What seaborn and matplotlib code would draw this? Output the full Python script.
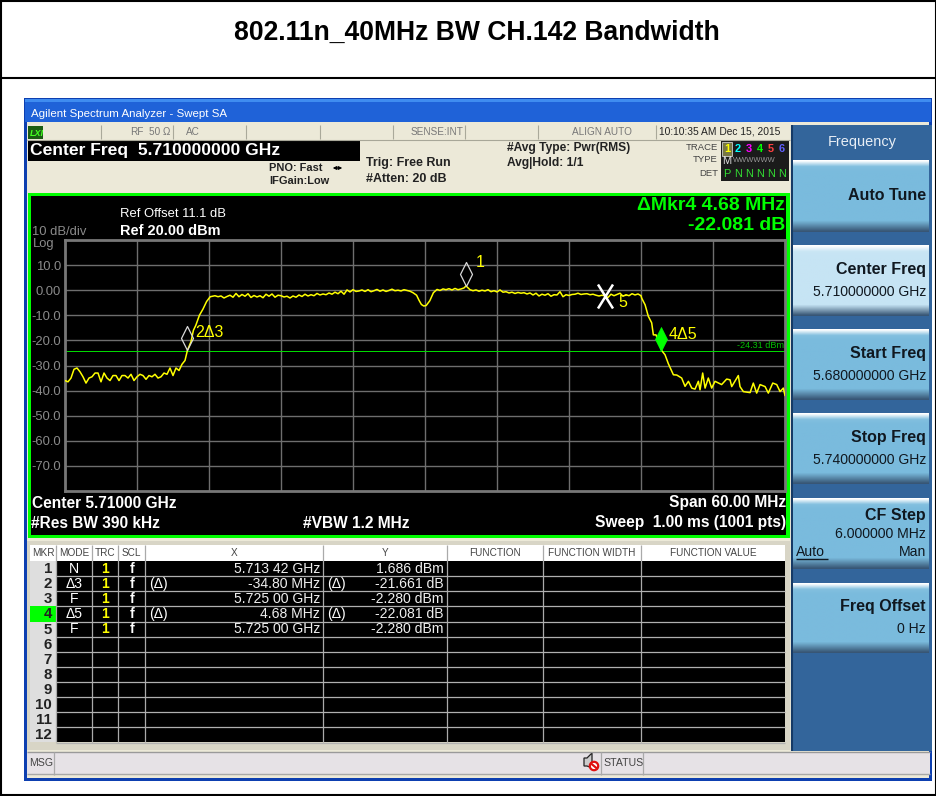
import numpy as np
import pandas as pd
import seaborn as sns
import matplotlib.pyplot as plt
from matplotlib.patches import Rectangle, Polygon, Circle
from matplotlib.path import Path

# trace pieces, frequency in MHz above 5680 MHz, level in dBm
left_freq = [0, .25, .5, .75, 1, 1.25, 1.5, 1.75, 2, 2.25, 2.5, 2.75, 3, 3.25, 3.5, 3.75, 4, 4.25, 4.5, 4.75,
             5, 5.25, 5.5, 5.75, 6, 6.25, 6.5, 6.75, 7, 7.25, 7.5, 7.75, 8, 8.25, 8.5, 8.75, 9, 9.25, 9.5, 9.75,
             10, 10.2, 10.5, 10.7, 10.9, 11.2, 11.5, 11.8, 12.1]
left_level = [-36, -36.5, -35, -31.5, -31, -32.5, -34.5, -37, -35, -34.5, -33, -33, -36.5, -33, -35, -36, -34, -34,
              -36, -34, -34, -35, -33.5, -36, -34.5, -33.5, -34, -35.5, -34, -34.5, -33.5, -35, -34.5, -33, -33.5,
              -31, -34, -31, -32, -29.5, -28, -24, -20.5, -16, -14, -10, -7.5, -4.5, -2.6]

top_left_freq = [12.5, 12.75, 13, 13.25, 13.5, 13.75, 14, 14.25, 14.5, 14.75, 15, 15.25, 15.5, 15.75, 16, 16.25,
                 16.5, 16.75, 17, 17.25, 17.5, 17.75, 18, 18.25, 18.5, 18.75, 19, 19.25, 19.5, 19.75, 20, 20.25,
                 20.5, 20.75, 21, 21.25, 21.5, 21.75, 22, 22.25, 22.5, 22.75, 23, 23.25, 23.5, 23.75, 24, 24.25,
                 24.5, 24.75, 25, 25.25, 25.5, 25.75, 26, 26.25, 26.5, 26.75, 27, 27.25, 27.5, 27.75, 28, 28.25,
                 28.5, 28.75, 29]
top_left_level = [-2.2, -2.6, -2.3, -3.1, -2.5, -2.0, -2.8, -1.3, -2.6, -1.7, -2.4, -1.4, -2.9, -2.1, -2.7, -2.2,
                  -3.0, -1.6, -2.4, -1.5, -2.8, -2.0, -2.2, -2.7, -2.4, -3.1, -2.3, -2.8, -1.9, -2.5, -1.6, -2.3,
                  -1.8, -2.2, -1.3, -1.9, -1.5, -1.8, -1.1, -1.6, -0.8, -1.4, -0.4, -1.6, 0.1, -0.7, 0.2, -0.5,
                  -0.3, 0.1, -0.5, 0.2, -0.6, -0.2, 0.3, -0.4, 0.1, -0.5, -0.1, 0.4, -0.2, 0.0, -0.3, 0.2, -0.1, -0.4, -1.0]

dip_freq = [29.3, 29.5, 29.7, 29.9, 30.1, 30.4, 30.7, 31, 31.25, 31.5, 31.75, 32, 32.25, 32.5, 32.75, 33, 33.25, 33.42]
dip_level = [-2, -4, -5.7, -6.3, -6.1, -4.2, -1, 0.3, -0.1, 0.5, 0.2, 0.6, 0.1, 0.7, 0.2, 0.5, 0.9, 1.686]

top_right_freq = [33.75, 34, 34.25, 34.5, 34.75, 35, 35.25, 35.5, 35.75, 36, 36.25, 36.5, 36.75, 37, 37.25, 37.5,
                  37.75, 38, 38.25, 38.5, 38.75, 39, 39.25, 39.5, 39.75, 40, 40.25, 40.5, 40.75, 41, 41.25, 41.5,
                  41.75, 42, 42.25, 42.5, 42.75, 43, 43.25, 43.5, 43.75, 44, 44.25, 44.5, 44.75, 45, 45.25, 45.5,
                  45.75, 46, 46.25, 46.5, 46.75, 47, 47.25, 47.5, 47.75, 48]
top_right_level = [0.2, -0.2, 0.1, -0.4, 0, -0.3, 0.2, -0.6, -0.2, -0.7, 0.1, -0.8, -0.6, -1.1, -0.8, -1.3, -0.9, -1.2,
                   -1, -1.5, -1.1, -1.9, -1.2, -2.3, -1.6, -2.0, -1.4, -2.4, -1.8, -1.9, -0.6, -2.6, -1.8, -2.1, -1.7,
                   -1.6, -1.2, -1.7, -1.5, -1.4, -1.8, -1.6, -2.0, -2.3, -2.0, -2.28, -2.9, -1.6, -2.2, -1.7, -1.2, -2.4,
                   -1.8, -2.2, -1.4, -1.9, -1.5, -2.2]

right_freq = [48.06, 48.34, 48.61, 48.89, 49.03, 49.25, 49.73, 50, 50.28, 50.7, 50.98, 51.39, 51.67, 51.95, 52.23, 52.5,
              52.78, 52.92, 53.14, 53.34, 53.61, 53.89, 54.17, 54.72, 55.14, 55.42, 55.56, 56.11, 56.25, 56.53, 57.09,
              57.36, 57.64, 57.92, 58.34, 58.61, 58.98, 59.31, 59.59, 59.86, 60]
right_level = [-3.2, -5.8, -10.4, -13, -17.8, -17.8, -24.1, -25.7, -29.3, -33.7, -33.8, -35, -38.3, -36.3, -39, -39.4,
               -36.3, -39.7, -33, -39, -35, -39, -36.3, -37.6, -35.4, -35.7, -38.4, -34, -38.4, -40.4, -40.8,
               -37, -41, -37.6, -38.4, -41, -37, -37.6, -40.4, -39, -42]

# markers, same units as the trace
marker_freq = [33.42, 10.2, 49.68, 45.0]
marker_level = [1.686, -23.94, -24.36, -2.28]
display_line = -24.31

y_ticks = [10, 0, -10, -20, -30, -40, -50, -60, -70]
y_tick_labels = ['10.0', '0.00', '-10.0', '-20.0', '-30.0', '-40.0', '-50.0', '-60.0', '-70.0']
x_ticks = [0, 6, 12, 18, 24, 30, 36, 42, 48, 54, 60]

# marker table
mkr_no = ['1', '2', '3', '4', '5', '6', '7', '8', '9', '10', '11', '12']
mkr_mode = ['N', '\u03943', 'F', '\u03945', 'F']
mkr_x = ['5.713 42 GHz', '-34.80 MHz', '5.725 00 GHz', '4.68 MHz', '5.725 00 GHz']
mkr_y = ['1.686 dBm', '-21.661 dB', '-2.280 dBm', '-22.081 dB', '-2.280 dBm']
mkr_delta = [False, True, False, True, False]
table_heads = ['MKR', 'MODE', 'TRC', 'SCL', 'X', 'Y', 'FUNCTION', 'FUNCTION WIDTH', 'FUNCTION VALUE']
table_cols = [30, 56, 92, 118, 145, 323, 447, 543, 641, 785]

# softkeys
key_titles = ['Auto Tune', 'Center Freq', 'Start Freq', 'Stop Freq', 'CF Step', 'Freq Offset']
key_values = ['', '5.710000000 GHz', '5.680000000 GHz', '5.740000000 GHz', '6.000000 MHz', '0 Hz']
key_tops = [160, 245, 329, 413, 498, 583]
key_bottoms = [232, 316, 400, 484, 569, 653]

sns.set_theme(style="dark")
plt.rcParams['font.family'] = ['Liberation Sans', 'DejaVu Sans']

W, H = 937, 796
fig = plt.figure(figsize=(W / 100, H / 100), dpi=100, facecolor='white')

# whole figure in pixel coordinates for the instrument screen around the plot
bg = fig.add_axes([0, 0, 1, 1])
bg.set_xlim(0, W)
bg.set_ylim(H, 0)
bg.axis('off')


def box(x0, y0, x1, y1, color, **kw):
    bg.add_patch(Rectangle((x0, y0), x1 - x0, y1 - y0, facecolor=color, edgecolor='none', linewidth=0, **kw))


def label(x, y, s, px, color='black', weight='normal', ha='left', ax=None, **kw):
    (ax or bg).text(x, y, s, fontsize=px * 0.72, color=color, fontweight=weight, ha=ha, va='center', **kw)


def vline(x, y0, y1, color, lw=1.0):
    bg.plot([x, x], [y0, y1], color=color, lw=lw, solid_capstyle='butt')


def hline(y, x0, x1, color, lw=1.0):
    bg.plot([x0, x1], [y, y], color=color, lw=lw, solid_capstyle='butt')


# page frame and title
hline(78, 0, W, 'black', 1.5)
vline(1, 0, H, 'black', 1.5)
vline(936, 0, H, 'black', 1.5)
hline(0.5, 0, W, 'black', 1.5)
hline(795, 0, W, 'black', 1.5)
label(477, 33, '802.11n_40MHz BW CH.142 Bandwidth', 26.5, weight='bold', ha='center')

# window
box(24, 98, 932, 781, '#0d3fb0')
box(25, 100, 931, 122, '#1f62d8')
box(25, 99, 931, 102, '#3f8cf0')
label(31, 114, 'Agilent Spectrum Analyzer - Swept SA', 11.5, color='white')
box(27, 122, 929, 778, '#ece9d8')

# top status row
box(27, 125, 790, 140, '#ece9d8')
for x in [101, 173, 246, 320, 393, 465, 538, 656]:
    vline(x, 125, 139, '#aaa99a', 0.8)
hline(139.5, 27, 790, '#a8a798', 0.8)
box(28, 126, 43, 139, '#1a5c12')
label(30, 133, 'LXI', 9, color='#44ff22', weight='bold', style='italic')
for x, s in [(137, 'RF'), (160, '50 \u03a9'), (193, 'AC'), (437, 'SENSE:INT'), (602, 'ALIGN AUTO')]:
    label(x, 132, s, 10, color='#777777', ha='center')
label(659, 132, '10:10:35 AM Dec 15, 2015', 10.3, color='#222222')

# header settings
box(28, 140, 360, 161, 'black')
label(30, 150, 'Center Freq  5.710000000 GHz', 17.5, color='white', weight='bold')
label(323, 168, 'PNO: Fast', 11, weight='bold', color='#222222', ha='right')
label(329, 181, 'IFGain:Low', 11, weight='bold', color='#222222', ha='right')
bg.annotate('', xy=(345, 168), xytext=(330, 168), arrowprops=dict(arrowstyle='<|-|>', lw=0.8, color='black', mutation_scale=5))
label(366, 163, 'Trig: Free Run', 12.5, weight='bold', color='#222222')
label(366, 179, '#Atten: 20 dB', 12.5, weight='bold', color='#222222')
label(507, 148, '#Avg Type: Pwr(RMS)', 12, weight='bold', color='#222222')
label(507, 163, 'Avg|Hold: 1/1', 12, weight='bold', color='#222222')
for y, s in [(147, 'TRACE'), (160, 'TYPE'), (174, 'DET')]:
    label(718, y, s, 9.5, color='#444444', ha='right')
box(721, 141, 789, 181, '#1b1b1b')
bg.add_patch(Rectangle((722, 142), 10, 14, facecolor='#777744', edgecolor='#cccccc', linewidth=0.6))
for i, c in enumerate(['#ffff00', '#00ffff', '#ff00ff', '#00ff00', '#ff4040', '#6060ff']):
    label(727 + i * 11, 149, str(i + 1), 11, color=c, ha='center', weight='bold')
label(727, 161, 'M', 11, color='#dddddd', ha='center')
label(733, 161, 'WWWWWW', 7.5, color='#999999')
label(727, 174, 'P', 11, color='#33dd33', ha='center')
for i in range(1, 6):
    label(727 + i * 11, 174, 'N', 11, color='#33dd33', ha='center')

# graticule panel
box(28, 193, 790, 538, '#00ff00')
box(31, 196, 786.5, 534.5, 'black')
label(32, 232, '10 dB/div', 13, color='#8a8a8a')
label(33, 244, 'Log', 13, color='#8a8a8a')
label(120, 214, 'Ref Offset 11.1 dB', 13, color='white')
label(120, 231, 'Ref 20.00 dBm', 14.5, color='white', weight='bold')
label(785, 205, '\u0394Mkr4 4.68 MHz', 19.5, color='#00ff00', weight='bold', ha='right')
label(785, 226, '-22.081 dB', 19.5, color='#00ff00', weight='bold', ha='right')
label(32, 503, 'Center 5.71000 GHz', 15.5, color='white', weight='bold')
label(31, 523, '#Res BW 390 kHz', 15.5, color='white', weight='bold')
label(303, 523, '#VBW 1.2 MHz', 15.5, color='white', weight='bold')
label(786, 503, 'Span 60.00 MHz', 15.5, color='white', weight='bold', ha='right')
label(786, 523, 'Sweep  1.00 ms (1001 pts)', 15.5, color='white', weight='bold', ha='right')

# marker table
box(27, 541, 790, 750, '#d8d5c6')
box(30, 545, 785, 561, 'white')
box(30, 561, 56, 742, '#dedede')
box(56, 561, 785, 742, 'black')
row_h = 15.13
for i, s in enumerate(table_heads):
    label((table_cols[i] + table_cols[i + 1]) / 2, 552.5, s, 10, color='#444444', ha='center')
    if i > 0:
        vline(table_cols[i], 545, 742, '#aaaaaa', 0.9)
for r in range(12):
    y = 561 + r * row_h
    yc = y + row_h / 2
    if r == 3:
        box(30, y, 56, y + row_h, '#00ff00')
    label(52, yc + 0.5, mkr_no[r], 15, weight='bold', color='#222222', ha='right')
    hline(y + row_h, 56, 785, '#b0b0b0', 0.9)
    if r < len(mkr_mode):
        label(74, yc, mkr_mode[r], 14, color='white', ha='center')
        label(105, yc, '1', 14, color='#ffff00', ha='center', weight='bold')
        label(132, yc, 'f', 14, color='white', ha='center', weight='bold')
        label(320, yc, mkr_x[r], 14, color='#eeeeee', ha='right')
        label(444, yc, mkr_y[r], 14, color='#eeeeee', ha='right')
        if mkr_delta[r]:
            label(149, yc, '(\u0394)', 14, color='white')
            label(327, yc, '(\u0394)', 14, color='white')

# softkey panel
box(792, 125, 932, 751, '#33659b')
vline(792, 125, 751, '#163a66', 1.5)
label(862, 142, 'Frequency', 14.5, color='#e8eef5', ha='center')
stops = [0, 5, 8, 55, 62, 72]
for n, (y0, y1) in enumerate(zip(key_tops, key_bottoms)):
    body = '#c6e4f4' if n == 1 else '#7abbdd'
    bodyc = np.array(plt.matplotlib.colors.to_rgb(body))
    steps = np.linspace(0, 1, 40)
    ramp = np.zeros((40, 1, 3))
    for k in range(3):
        ramp[:, 0, k] = np.interp(steps, [0, 0.08, 0.16, 0.85, 1],
                                  [1, 0.95 * bodyc[k] + 0.05, bodyc[k], bodyc[k], 0.22 + 0.2 * k * 0.6])
    bg.imshow(ramp, extent=[793, 929, y1, y0], aspect='auto', interpolation='bilinear', zorder=2)
    dy = 0
    label(926, (y0 + y1) / 2 + (0 if n == 0 else -11 if n != 4 else -18), key_titles[n], 16, weight='bold',
          color='#101820', ha='right', zorder=3)
    if key_values[n]:
        label(926, (y0 + y1) / 2 + (11 if n != 4 else 0), key_values[n], 14, color='#101820', ha='right', zorder=3)
label(796, 552, 'Auto', 14, color='#101820', zorder=3)
hline(559, 796, 828, '#101820', 1.0)
label(926, 552, 'Man', 14, color='#101820', ha='right', zorder=3)
bg.lines[-1].set_zorder(3)
bg.set_xlim(0, W)
bg.set_ylim(H, 0)

# bottom message bar
box(27, 752, 930, 775, '#e6e2e6')
hline(752, 27, 930, '#9a9a9a', 1.0)
hline(774, 27, 930, '#a8a8a8', 1.0)
vline(54, 752, 775, '#aaaaaa', 0.9)
label(29, 763, 'MSG', 10.5, color='#444444')
vline(601, 752, 775, '#aaaaaa', 0.9)
vline(643, 752, 775, '#aaaaaa', 0.9)
label(603, 762.5, 'STATUS', 10.5, color='#444444')
bg.add_patch(Polygon([(584, 758), (587, 758), (592, 753), (592, 768), (587, 766), (584, 766)],
                     facecolor='#cccccc', edgecolor='#222222', linewidth=0.9))
bg.add_patch(Circle((594, 766), 4.2, facecolor='white', edgecolor='#e01010', linewidth=1.6))
bg.plot([591, 597], [763.5, 768.5], color='#e01010', lw=1.6)

# the trace itself
trace = pd.DataFrame({
    'freq': left_freq + top_left_freq + dip_freq + top_right_freq + right_freq,
    'level': left_level + top_left_level + dip_level + top_right_level + right_level,
})

ax = fig.add_axes([65 / W, (H - 491) / H, 720 / W, 251 / H], facecolor='black')
ax.set_xlim(0, 60)
ax.set_ylim(-80, 20)
ax.set_xticks(x_ticks[1:-1])
ax.set_yticks(y_ticks)
ax.set_yticklabels(y_tick_labels)
ax.set_xticklabels([])
ax.tick_params(axis='both', length=0, labelcolor='#8a8a8a', labelsize=13 * 0.72, pad=3, bottom=False, left=False)
ax.grid(True, color='#6e6e6e', lw=1.0)
ax.set_axisbelow(True)
for s in ax.spines.values():
    s.set_color('#777777')
    s.set_linewidth(2.0)
    s.set_visible(True)

ax.axhline(display_line, color='#00e000', lw=0.7, zorder=2)
sns.lineplot(data=trace, x='freq', y='level', estimator=None, sort=False, color='#ffff00', lw=1.1, ax=ax, zorder=3)
ax.set_xlabel('')
ax.set_ylabel('')
ax.text(59.9, display_line + 0.4, '-24.31 dBm', color='#00c000', fontsize=8 * 0.72 * 1.15, ha='right', va='bottom')

diamond = Path([(0, 0), (-6, 12), (0, 24), (6, 12), (0, 0)], closed=True)
cross = Path([(-7.5, -12), (7.5, 12), (-7.5, 12), (7.5, -12)], [Path.MOVETO, Path.LINETO, Path.MOVETO, Path.LINETO])
dia_size = 48 * 0.72
ax.plot(marker_freq[:2], marker_level[:2], ls='', marker=diamond, ms=dia_size, mfc='none', mec='#d8d8d8', mew=0.9, zorder=4)
ax.plot(marker_freq[2], marker_level[2], ls='', marker=diamond, ms=dia_size, mfc='#00ff00', mec='#00ff00', mew=0.5, zorder=4)
ax.plot(marker_freq[3], marker_level[3], ls='', marker=cross, ms=24 * 0.72, mfc='none', mec='white', mew=1.8, zorder=4)

for i, (s, dx, dy) in enumerate([('1', 10, 23), ('2\u03943', 8, 18), ('4\u03945', 7, 17), ('5', 13, -7)]):
    ax.annotate(s, (marker_freq[i], marker_level[i]), xytext=(dx * 0.72, dy * 0.72), textcoords='offset points',
                color='#ffff00', fontsize=16 * 0.72, va='center', zorder=5)

fig.savefig('out.png', dpi=100, facecolor='white')
